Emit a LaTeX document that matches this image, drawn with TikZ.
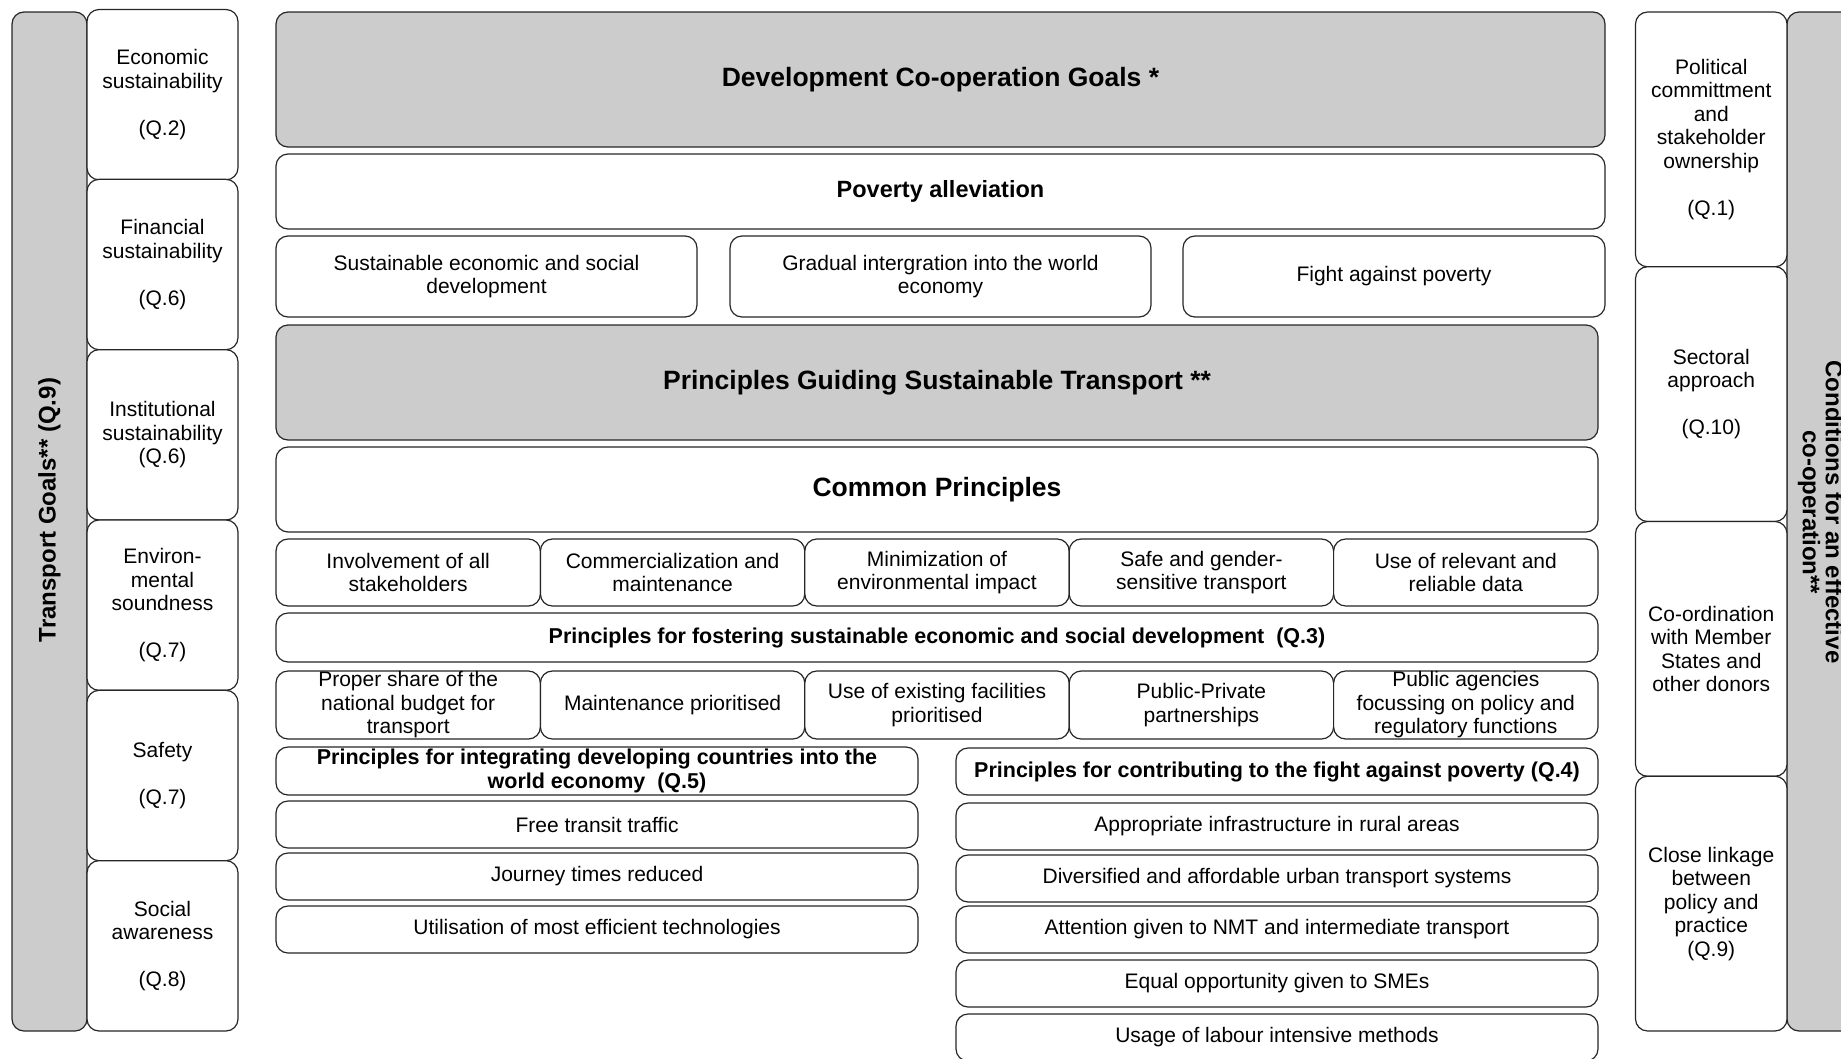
\documentclass[tikz,border=0pt]{standalone}
\usepackage{fontspec}
\setmainfont{Liberation Sans}
\tikzset{
  bx/.style={draw=black!85, line width=1.2pt, rounded corners=12pt, align=center,
    inner sep=0pt, outer sep=0pt, fill=white, font=\fontsize{21}{23.5}\selectfont},
  gbx/.style={bx, fill=black!20},
  bigt/.style={font=\fontsize{26.5}{30}\selectfont\bfseries},
  subt/.style={font=\fontsize{21.5}{23.5}\selectfont\bfseries},
  bart/.style={font=\fontsize{24}{23}\selectfont\bfseries, align=center},
}
\begin{document}
\begin{tikzpicture}[x=1pt,y=-1pt]
\useasboundingbox (0,0) rectangle (1841,1058);
\clip (0,0) rectangle (1841,1058);
% ---------- left bar ----------
\node[gbx, minimum width=75pt, minimum height=1019pt] (tgbar) at (49.5,521.5) {};
\node[bart, rotate=90] (tgtext) at (49.5,510) {Transport Goals** (Q.9)};
% ---------- left boxes ----------
\node[bx, minimum width=151pt, minimum height=170.33pt] (l1) at (162.5,94.67) {Economic\\sustainability\\~\\(Q.2)};
\node[bx, minimum width=151pt, minimum height=170.33pt] (l2) at (162.5,264.5) {Financial\\sustainability\\~\\(Q.6)};
\node[bx, minimum width=151pt, minimum height=170.33pt] (l3) at (162.5,434.83) {Institutional\\sustainability\\(Q.6)};
\node[bx, minimum width=151pt, minimum height=170.33pt] (l4) at (162.5,605.17) {Environ-\\mental\\soundness\\~\\(Q.7)};
\node[bx, minimum width=151pt, minimum height=170.33pt] (l5) at (162.5,775.5) {Safety\\~\\(Q.7)};
\node[bx, minimum width=151pt, minimum height=170.33pt] (l6) at (162.5,945.83) {Social\\awareness\\~\\(Q.8)};
% ---------- right bar ----------
\node[gbx, minimum width=75pt, minimum height=1019pt] (cbar) at (1824.5,521.5) {};
\node[bart, rotate=-90] (ctext) at (1820.5,512) {Conditions for an effective\\co-operation**};
% ---------- right boxes ----------
\node[bx, minimum width=151.5pt, minimum height=254.75pt] (r1) at (1711.25,139.4) {Political\\committment\\and\\stakeholder\\ownership\\~\\(Q.1)};
\node[bx, minimum width=151.5pt, minimum height=254.75pt] (r2) at (1711.25,394.1) {Sectoral\\approach\\~\\(Q.10)};
\node[bx, minimum width=151.5pt, minimum height=254.75pt] (r3) at (1711.25,648.9) {Co-ordination\\with Member\\States and\\other donors};
\node[bx, minimum width=151.5pt, minimum height=254.75pt] (r4) at (1711.25,903.6) {Close linkage\\between\\policy and\\practice\\(Q.9)};
% ---------- centre: goals ----------
\node[gbx, bigt, minimum width=1329pt, minimum height=135pt] (dcg) at (940.5,79.5) {Development Co-operation Goals *};
\node[bx, font=\fontsize{23.5}{27}\selectfont\bfseries, minimum width=1329pt, minimum height=75pt] (pov) at (940.5,191.5) {Poverty alleviation};
\node[bx, minimum width=421pt, minimum height=81pt] (g1) at (486.5,276.5) {Sustainable economic and social\\development};
\node[bx, minimum width=421pt, minimum height=81pt] (g2) at (940.5,276.5) {Gradual intergration into the world\\economy};
\node[bx, minimum width=422pt, minimum height=81pt] (g3) at (1394,276.5) {Fight against poverty};
% ---------- centre: principles ----------
\node[gbx, bigt, minimum width=1322pt, minimum height=115pt] (pgst) at (937,382.5) {Principles Guiding Sustainable Transport **};
\node[bx, bigt, minimum width=1322pt, minimum height=85pt] (cp) at (937,489.5) {Common Principles};
\node[bx, minimum width=264.4pt, minimum height=67pt] (c1) at (408.2,572.5) {Involvement of all\\stakeholders};
\node[bx, minimum width=264.4pt, minimum height=67pt] (c2) at (672.6,572.5) {Commercialization and\\maintenance};
\node[bx, minimum width=264.4pt, minimum height=67pt] (c3) at (937,572.5) {Minimization of\\environmental impact};
\node[bx, minimum width=264.4pt, minimum height=67pt] (c4) at (1201.4,572.5) {Safe and gender-\\sensitive transport};
\node[bx, minimum width=264.4pt, minimum height=67pt] (c5) at (1465.8,572.5) {Use of relevant and\\reliable data};
\node[bx, subt, minimum width=1322pt, minimum height=49pt] (fost) at (937,637.5) {Principles for fostering sustainable economic and social development~~(Q.3)};
\node[bx, minimum width=264.4pt, minimum height=68pt] (f1) at (408.2,705) {Proper share of the\\national budget for\\transport};
\node[bx, minimum width=264.4pt, minimum height=68pt] (f2) at (672.6,705) {Maintenance prioritised};
\node[bx, minimum width=264.4pt, minimum height=68pt] (f3) at (937,705) {Use of existing facilities\\prioritised};
\node[bx, minimum width=264.4pt, minimum height=68pt] (f4) at (1201.4,705) {Public-Private\\partnerships};
\node[bx, minimum width=264.4pt, minimum height=68pt] (f5) at (1465.8,705) {Public agencies\\focussing on policy and\\regulatory functions};
% ---------- lower left ----------
\node[bx, subt, minimum width=642pt, minimum height=48pt] (integ) at (597,771) {Principles for integrating developing countries into the\\world economy~~(Q.5)};
\node[bx, minimum width=642pt, minimum height=47pt] (w1) at (597,824.5) {Free transit traffic};
\node[bx, minimum width=642pt, minimum height=47pt] (w2) at (597,876.5) {Journey times reduced};
\node[bx, minimum width=642pt, minimum height=47pt] (w3) at (597,929.5) {Utilisation of most efficient technologies};
% ---------- lower right ----------
\node[bx, subt, minimum width=642pt, minimum height=47pt] (contr) at (1277,771.5) {Principles for contributing to the fight against poverty (Q.4)};
\node[bx, minimum width=642pt, minimum height=47pt] (p1) at (1277,826.5) {Appropriate infrastructure in rural areas};
\node[bx, minimum width=642pt, minimum height=47pt] (p2) at (1277,878.5) {Diversified and affordable urban transport systems};
\node[bx, minimum width=642pt, minimum height=47pt] (p3) at (1277,929.5) {Attention given to NMT and intermediate transport};
\node[bx, minimum width=642pt, minimum height=47pt] (p4) at (1277,983.5) {Equal opportunity given to SMEs};
\node[bx, minimum width=642pt, minimum height=47pt] (p5) at (1277,1037.5) {Usage of labour intensive methods};
\end{tikzpicture}
\end{document}
